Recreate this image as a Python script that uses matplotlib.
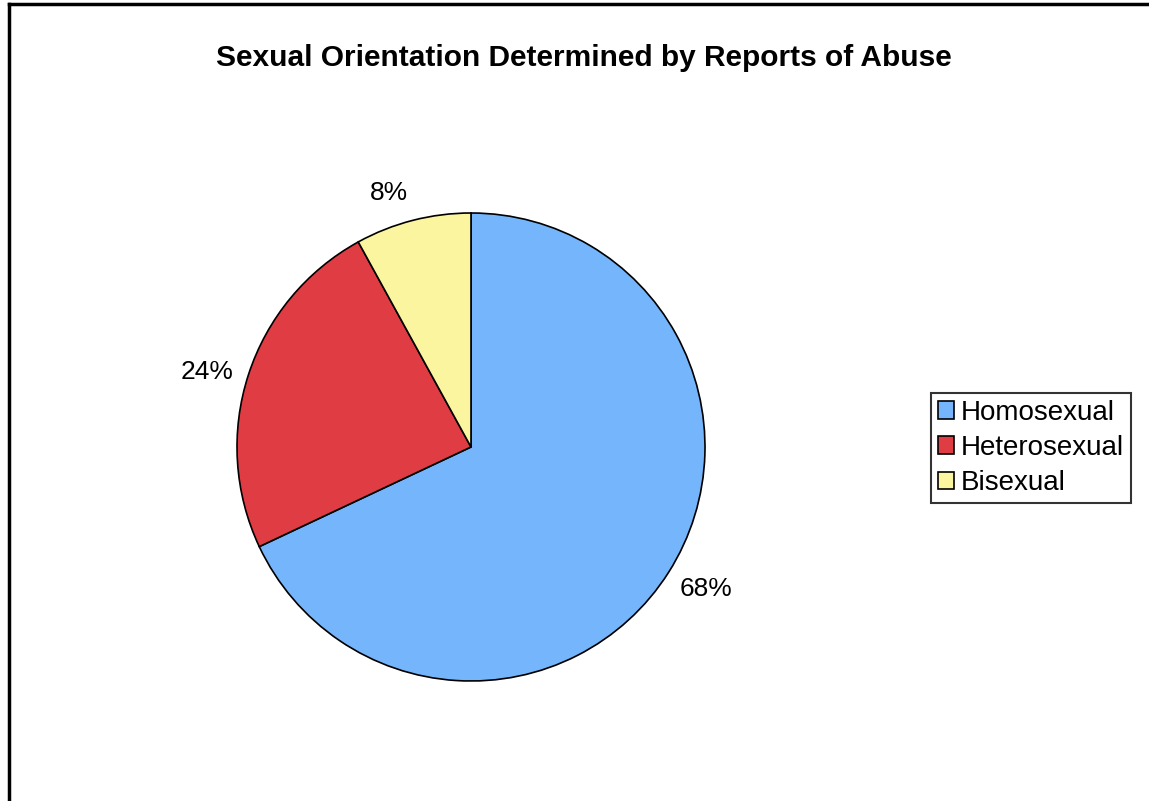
import matplotlib.pyplot as plt
import numpy as np
from matplotlib.lines import Line2D

labels = ["Homosexual", "Heterosexual", "Bisexual"]
values = [68, 24, 8]
colors = ["#74b5fc", "#e03c44", "#fcf5a0"]

fig = plt.figure(figsize=(11.49, 8.01), dpi=100)
fig.patch.set_facecolor("white")

# frame on left and top, like the cropped screenshot
fig.add_artist(Line2D([0.0075, 0.0075], [0, 0.995], color="black", lw=2.5, transform=fig.transFigure))
fig.add_artist(Line2D([0.0075, 1.0], [0.995, 0.995], color="black", lw=2.5, transform=fig.transFigure))

# pie centre ~ (471, 447), radius ~ 234 px
ax = fig.add_axes([(471 - 234) / 1149, (801 - 447 - 234) / 801, 468 / 1149, 468 / 801])
wedges, texts = ax.pie(values, colors=colors, startangle=90, counterclock=False,
                       wedgeprops=dict(edgecolor="black", linewidth=1.2))
ax.set_aspect("equal")
ax.set_xlim(-1, 1)
ax.set_ylim(-1, 1)

# percentage labels outside the slices (small nudges to match the original placement)
mids = 90 - (np.cumsum(values) - np.array(values) / 2) / 100 * 360
dists = [1.173, 1.175, 1.14]
nudge = [1.2, 2.1, 3.5]
for v, a, d, n in zip(values, mids, dists, nudge):
    r = np.deg2rad(a + n)
    ax.text(d * np.cos(r), d * np.sin(r), "%d%%" % v, ha="center", va="center",
            fontsize=19, family="Liberation Sans")

fig.text(584 / 1149, 1 - 58 / 801, "Sexual Orientation Determined by Reports of Abuse",
         ha="center", va="center", fontsize=21.5, fontweight="bold", family="Liberation Sans")

leg = fig.legend(wedges, labels, loc="center", bbox_to_anchor=(1031 / 1149, 1 - 448 / 801),
                 frameon=True, fancybox=False, edgecolor="black", handlelength=0.6,
                 handleheight=0.6, handletextpad=0.25, borderpad=0.25, labelspacing=0.33,
                 borderaxespad=0, prop=dict(family="Liberation Sans", size=20))
leg.get_frame().set_linewidth(1.5)

fig.savefig("out.png", dpi=100)
